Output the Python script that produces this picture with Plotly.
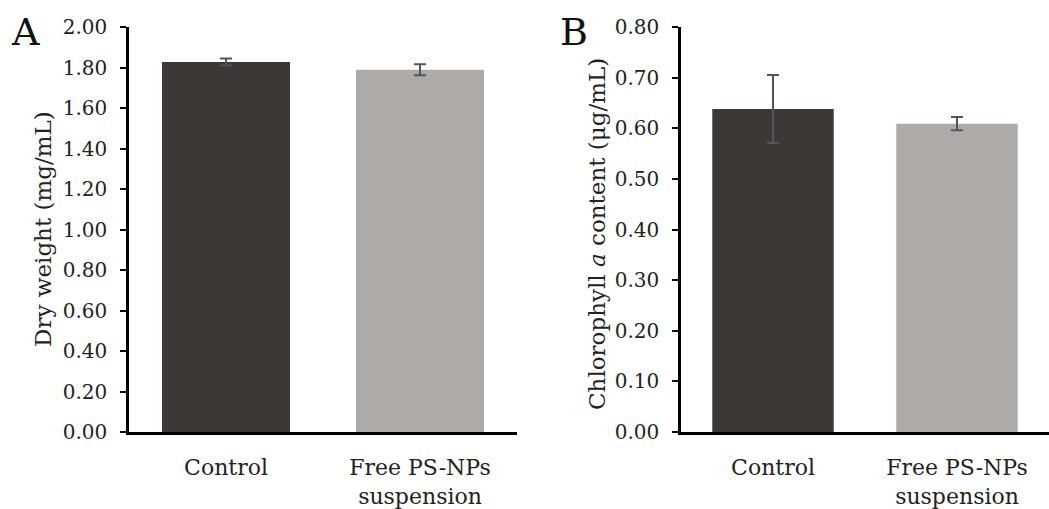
import plotly.graph_objects as go

categories = ["Control", "Free PS-NPs<br>suspension"]
dry_weight = [1.827, 1.789]
dry_weight_err = [0.017, 0.027]
chlorophyll = [0.638, 0.609]
chlorophyll_err = [0.067, 0.013]
bar_colors = ["#3c3836", "#aeaaa7"]

FONT = "DejaVu Serif"
ytick_fs = 20
xtick_fs = 22
title_fs = 23

fig = go.Figure()
fig.add_trace(go.Bar(
    x=categories, y=dry_weight, marker=dict(color=bar_colors, line=dict(width=0)),
    error_y=dict(type="data", array=dry_weight_err, color="#555555", thickness=2, width=6),
    xaxis="x", yaxis="y", showlegend=False))
fig.add_trace(go.Bar(
    x=categories, y=chlorophyll, marker=dict(color=bar_colors, line=dict(width=0)),
    error_y=dict(type="data", array=chlorophyll_err, color="#555555", thickness=2, width=6),
    xaxis="x2", yaxis="y2", showlegend=False))

W, H = 1049, 509
T, B = 27, 77
axA = (129, 517)
axB = (681, 1049)

common_x = dict(showline=True, linecolor="black", linewidth=2.5, ticks="", showgrid=False,
                tickfont=dict(family=FONT, size=xtick_fs, color="#222"), fixedrange=True,
                ticklabelstandoff=14)
common_y = dict(showline=True, linecolor="black", linewidth=2.5, ticks="outside", ticklen=6,
                tickwidth=2, tickcolor="black", showgrid=False, zeroline=False,
                tickfont=dict(family=FONT, size=ytick_fs, color="#222"), tickformat=".2f",
                ticklabelstandoff=9)


def py(pix):
    return (H - B - pix) / (H - T - B)


fig.update_layout(
    width=W, height=H, plot_bgcolor="white", paper_bgcolor="white",
    margin=dict(l=0, r=0, t=T, b=B), bargap=0.34,
    font=dict(family=FONT, color="#222"),
    xaxis=dict(domain=[axA[0] / W, axA[1] / W], anchor="y", **common_x),
    yaxis=dict(range=[0, 2.0], dtick=0.2, anchor="x", **common_y),
    xaxis2=dict(domain=[axB[0] / W, axB[1] / W], anchor="y2", **common_x),
    yaxis2=dict(range=[0, 0.8], dtick=0.1, anchor="x2", **common_y),
    annotations=[
        dict(text="A", x=25 / W, y=py(32), xref="paper", yref="paper", showarrow=False,
             xanchor="center", yanchor="middle",
             font=dict(family=FONT, size=38, color="#111")),
        dict(text="B", x=574 / W, y=py(32), xref="paper", yref="paper", showarrow=False,
             xanchor="center", yanchor="middle",
             font=dict(family=FONT, size=38, color="#111")),
        dict(text="Dry weight (mg/mL)", x=43 / W, y=py(229), xref="paper", yref="paper",
             showarrow=False, textangle=-90, xanchor="center", yanchor="middle",
             font=dict(family=FONT, size=title_fs, color="#222")),
        dict(text="Chlorophyll <i>a</i> content (μg/mL)", x=597 / W, y=py(234), xref="paper",
             yref="paper", showarrow=False, textangle=-90, xanchor="center", yanchor="middle",
             font=dict(family=FONT, size=title_fs, color="#222")),
    ],
)

fig.write_html("out.html")
